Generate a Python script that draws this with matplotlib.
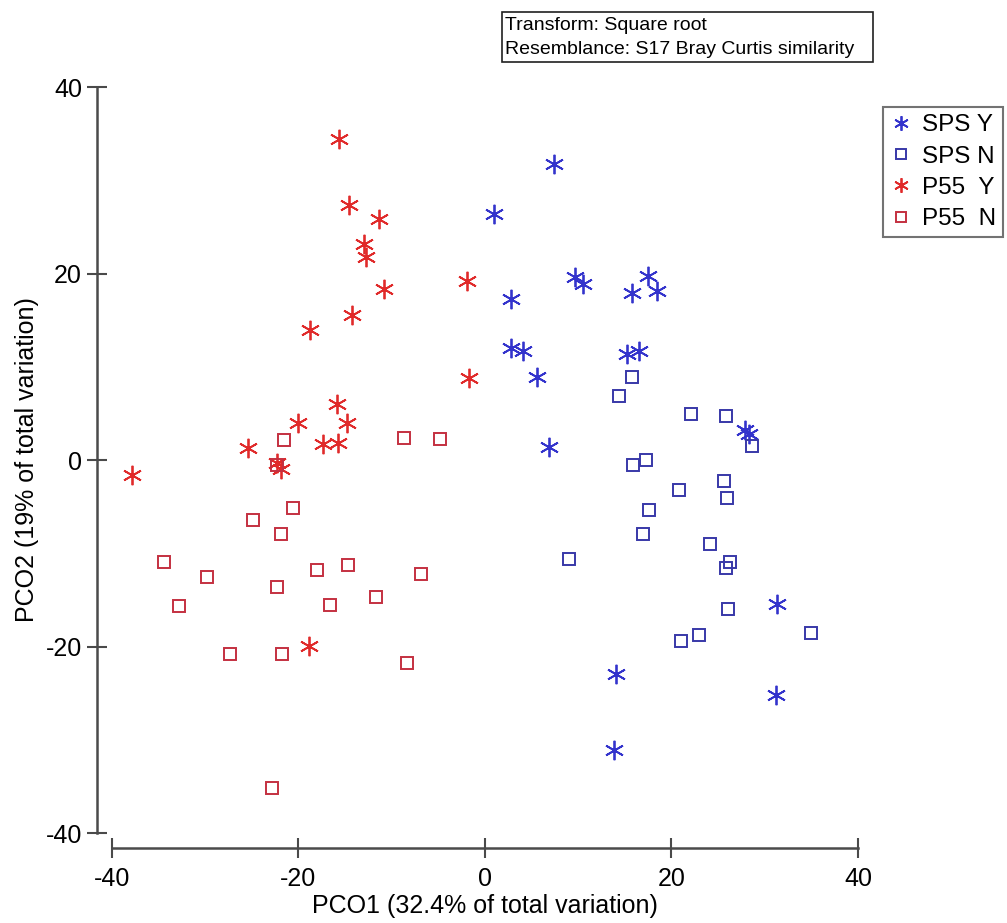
import matplotlib.pyplot as plt
from matplotlib.patches import Rectangle

# PCO scores
sps_y_x = [7.4, 1.0, 9.7, 10.5, 17.5, 15.8, 18.5, 2.8, 2.8, 4.1, 5.6, 15.2, 16.5, 6.9,
           27.9, 28.3, 31.3, 14.1, 31.2, 13.8]
sps_y_y = [31.7, 26.4, 19.6, 18.9, 19.7, 17.9, 18.1, 17.3, 12.0, 11.7, 8.9, 11.4, 11.7, 1.4,
           3.2, 2.8, -15.4, -22.9, -25.2, -31.1]

sps_n_x = [15.8, 14.4, 22.1, 25.8, 28.6, 17.3, 15.9, 20.8, 25.6, 26.0, 17.6, 17.0, 9.0,
           24.1, 26.3, 25.8, 26.1, 35.0, 23.0, 21.0]
sps_n_y = [8.9, 6.9, 4.9, 4.7, 1.5, 0.0, -0.5, -3.2, -2.3, -4.1, -5.4, -7.9, -10.6,
           -9.0, -10.9, -11.6, -16.0, -18.6, -18.8, -19.4]

p55_y_x = [-15.7, -14.6, -11.4, -13.0, -12.8, -10.8, -14.3, -18.8, -1.9, -1.7, -15.9, -14.8,
           -20.1, -25.4, -17.4, -15.8, -37.8, -22.3, -21.9, -18.9]
p55_y_y = [34.4, 27.3, 25.8, 23.2, 21.8, 18.3, 15.5, 13.9, 19.2, 8.8, 6.0, 4.0,
           4.0, 1.3, 1.7, 1.8, -1.6, -0.3, -1.0, -19.9]

p55_n_x = [-21.6, -8.7, -4.8, -22.3, -20.6, -24.9, -21.9, -34.4, -29.8, -32.8, -22.3, -18.0,
           -14.7, -6.9, -16.6, -11.7, -27.3, -21.8, -8.4, -22.8]
p55_n_y = [2.1, 2.4, 2.3, -0.5, -5.1, -6.4, -7.9, -10.9, -12.5, -15.7, -13.6, -11.8,
           -11.3, -12.2, -15.6, -14.7, -20.8, -20.8, -21.8, -35.2]

ticks = [-40, -20, 0, 20, 40]

plt.rcParams['font.family'] = ['Liberation Sans', 'DejaVu Sans']
plt.rcParams['axes.unicode_minus'] = False

blue = '#3333cc'
red = '#e02a2a'
star = (6, 2, 0)
axis_col = '#4a4a4a'

fig = plt.figure(figsize=(10.07, 9.23), dpi=100)
ax = fig.add_axes([0.1112, 0.0975, 0.7408, 0.8082])

ax.plot(sps_y_x, sps_y_y, ls='none', marker=star, ms=14, mec=blue, mew=1.3, label='SPS Y')
ax.plot(sps_n_x, sps_n_y, ls='none', marker='s', ms=9, mfc='none', mec='#3838a8', mew=1.4,
        label='SPS N')
ax.plot(p55_y_x, p55_y_y, ls='none', marker=star, ms=14, mec=red, mew=1.3, label='P55  Y')
ax.plot(p55_n_x, p55_n_y, ls='none', marker='s', ms=9, mfc='none', mec='#c43040', mew=1.4,
        label='P55  N')

ax.set_xlim(-40, 40)
ax.set_ylim(-40, 40)
ax.set_xticks(ticks)
ax.set_yticks(ticks)
for s in ['top', 'right']:
    ax.spines[s].set_visible(False)
for s in ['left', 'bottom']:
    ax.spines[s].set_position(('outward', 10.5))
    ax.spines[s].set_linewidth(1.8)
    ax.spines[s].set_color(axis_col)
ax.spines['left'].set_bounds(-40, 40)
ax.spines['bottom'].set_bounds(-40, 40)
ax.tick_params(direction='inout', length=14, width=1.5, color=axis_col,
               labelsize=18, pad=3)
ax.tick_params(axis='x', pad=7)
ax.tick_params(axis='y', pad=4)

ax.set_xlabel('PCO1 (32.4% of total variation)', fontsize=18, labelpad=2)
ax.set_ylabel('PCO2 (19% of total variation)', fontsize=18, labelpad=5)

leg = ax.legend(loc='upper left', bbox_to_anchor=(883 / 1007, 1 - 107 / 923),
                bbox_transform=fig.transFigure, fontsize=17.5, fancybox=False,
                edgecolor='#505050', borderpad=0.3, handlelength=0.9,
                handletextpad=0.4, labelspacing=0.38, markerscale=0.75,
                borderaxespad=0)
leg.get_frame().set_linewidth(1.5)

# transform / resemblance note box
fig.patches.append(Rectangle((502 / 1007, 1 - 62 / 923), 371 / 1007, 50 / 923,
                             transform=fig.transFigure, fill=False,
                             edgecolor='#202020', linewidth=1.2))
fig.text(505 / 1007, 1 - 25 / 923, 'Transform: Square root', fontsize=14, va='center')
fig.text(505 / 1007, 1 - 49 / 923, 'Resemblance: S17 Bray Curtis similarity', fontsize=14,
         va='center')

fig.savefig('out.png', dpi=100)
